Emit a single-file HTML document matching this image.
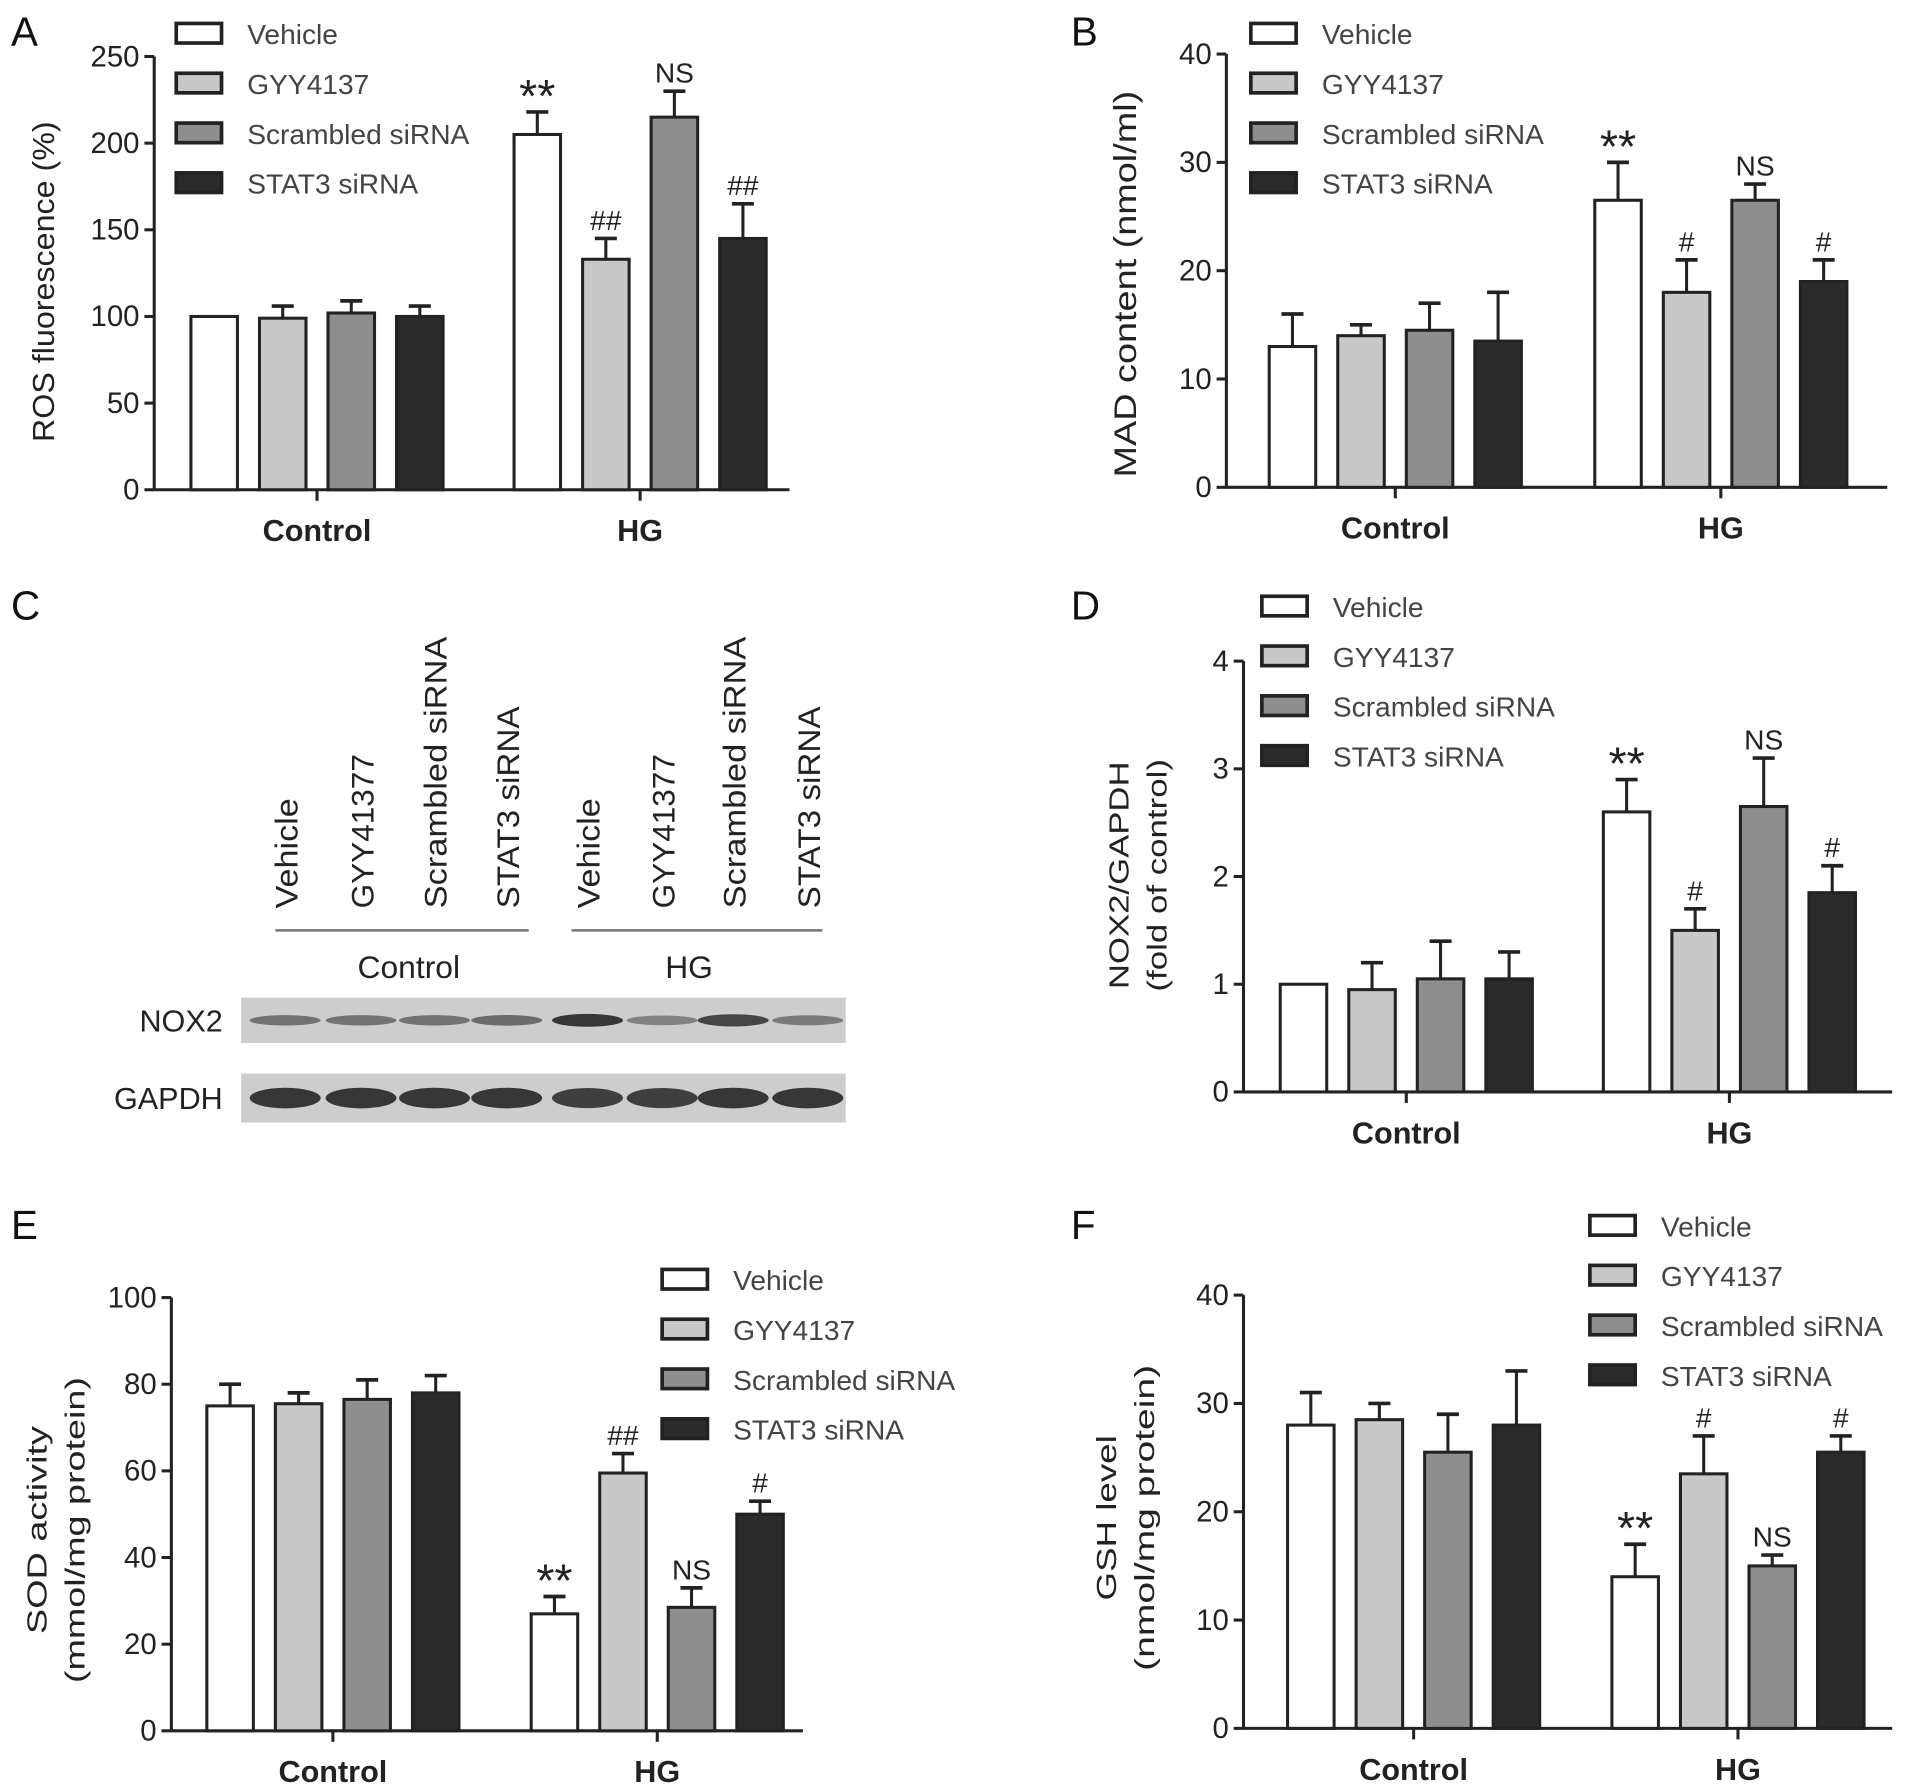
<!DOCTYPE html>
<html><head><meta charset="utf-8"><style>
html,body{margin:0;padding:0;background:#fff;}
svg{display:block;font-family:"Liberation Sans",Arial,sans-serif;}
</style></head><body>
<svg id="fig" width="1913" height="1791" viewBox="0 0 1563 1463" xmlns="http://www.w3.org/2000/svg">
<g id="blot"></g>
</svg>
<script>
// ---- data ----
const groups = ["Control", "HG"];
const seriesNames = ["Vehicle", "GYY4137", "Scrambled siRNA", "STAT3 siRNA"];
// Panel A
const rosCtrl = [100, 99, 102, 100];
const rosCtrlErr = [0, 7, 7, 6];
const rosHG = [205, 133, 215, 145];
const rosHGErr = [13, 12, 15, 20];
const rosTicks = [0, 50, 100, 150, 200, 250];
const rosMarks = ["**", "##", "NS", "##"];
// Panel B
const madCtrl = [13, 14, 14.5, 13.5];
const madCtrlErr = [3, 1, 2.5, 4.5];
const madHG = [26.5, 18, 26.5, 19];
const madHGErr = [3.5, 3, 1.5, 2];
const madTicks = [0, 10, 20, 30, 40];
const madMarks = ["**", "#", "NS", "#"];
// Panel D
const noxCtrl = [1, 0.95, 1.05, 1.05];
const noxCtrlErr = [0, 0.25, 0.35, 0.25];
const noxHG = [2.6, 1.5, 2.65, 1.85];
const noxHGErr = [0.3, 0.2, 0.45, 0.25];
const noxTicks = [0, 1, 2, 3, 4];
const noxMarks = ["**", "#", "NS", "#"];
// Panel E
const sodCtrl = [75, 75.5, 76.5, 78];
const sodCtrlErr = [5, 2.5, 4.5, 4];
const sodHG = [27, 59.5, 28.5, 50];
const sodHGErr = [4, 4.5, 4.5, 3];
const sodTicks = [0, 20, 40, 60, 80, 100];
const sodMarks = ["**", "##", "NS", "#"];
// Panel F
const gshCtrl = [28, 28.5, 25.5, 28];
const gshCtrlErr = [3, 1.5, 3.5, 5];
const gshHG = [14, 23.5, 15, 25.5];
const gshHGErr = [3, 3.5, 1, 1.5];
const gshTicks = [0, 10, 20, 30, 40];
const gshMarks = ["**", "#", "NS", "#"];
// Panel C blot intensities (0-1)
const laneLabels = ["Vehicle", "GYY41377", "Scrambled siRNA", "STAT3 siRNA", "Vehicle", "GYY41377", "Scrambled siRNA", "STAT3 siRNA"];
const nox2Intensity = [0.5, 0.5, 0.5, 0.55, 0.9, 0.4, 0.8, 0.45];
const gapdhIntensity = [0.9, 0.9, 0.9, 0.9, 0.85, 0.85, 0.9, 0.9];

const fills = ["#ffffff", "#c8c8c8", "#8e8e8e", "#2b2b2b"];
const NS = "http://www.w3.org/2000/svg";
const svg = document.getElementById('fig');
function mk(tag, attrs, parent, text) {
  const e = document.createElementNS(NS, tag);
  for (const k in attrs) e.setAttribute(k, attrs[k]);
  if (text !== undefined) e.textContent = text;
  (parent || svg).appendChild(e);
  return e;
}

function panel(cfg) {
  const g = mk('g', {});
  
  
  const maxV = cfg.ticks[cfg.ticks.length - 1];
  const y = v => cfg.y0 - (v / maxV) * (cfg.y0 - cfg.yTop);
  const lbl = mk('text', {x: cfg.letterX, y: cfg.letterY, 'font-size': 33, fill: '#111'}, g, cfg.letter);
  
  
  const ya = mk('line', {x1: cfg.ax, y1: cfg.yTop, x2: cfg.ax, y2: cfg.y0, stroke: '#222', 'stroke-width': 2.5}, g);
  
  
  const xa = mk('line', {x1: cfg.ax, y1: cfg.y0, x2: cfg.axEnd, y2: cfg.y0, stroke: '#222', 'stroke-width': 2.5}, g);
  
  
  cfg.ticks.forEach(t => {
    mk('line', {x1: cfg.ax - 8, y1: y(t), x2: cfg.ax, y2: y(t), stroke: '#222', 'stroke-width': 2.5}, g);
    const tl = mk('text', {x: cfg.ax - 12, y: y(t) + 8, 'font-size': 24, 'text-anchor': 'end', fill: '#222'}, g, String(t));
    
    
  });
  const tx = cfg.titleX, ty = cfg.titleY;
  cfg.title.forEach((line, i) => {
    const t = mk('text', {x: 0, y: 0, 'font-size': cfg.titleSize, 'text-anchor': 'middle', fill: '#222',
      textLength: cfg.titleLen[i], lengthAdjust: 'spacingAndGlyphs',
      transform: `translate(${tx + i * cfg.titleGap},${ty}) rotate(-90)`}, g, line);
    
    
  });
  const offs = [-84, -28, 28, 84];
  [ [cfg.ctrl, cfg.ctrlErr, cfg.c0, null], [cfg.hg, cfg.hgErr, cfg.c1, cfg.marks] ].forEach((grp, gi) => {
    const [vals, errs, cx, marks] = grp;
    mk('line', {x1: cx, y1: cfg.y0, x2: cx, y2: cfg.y0 + 9, stroke: '#222', 'stroke-width': 2.5}, g);
    const gl = mk('text', {x: cx, y: cfg.y0 + 42, 'font-size': 25, 'font-weight': 'bold', 'text-anchor': 'middle', fill: '#222'}, g, groups[gi]);
    
    
    vals.forEach((v, i) => {
      const bx = cx + offs[i];
      const top = y(v);
      const et = y(v + errs[i]);
      if (errs[i] > 0) {
        mk('line', {x1: bx, y1: top, x2: bx, y2: et, stroke: '#222', 'stroke-width': 2.5}, g);
        mk('line', {x1: bx - 9, y1: et, x2: bx + 9, y2: et, stroke: '#222', 'stroke-width': 3}, g);
      }
      const r = mk('rect', {x: bx - 19, y: top, width: 38, height: cfg.y0 - top, fill: fills[i], stroke: '#222', 'stroke-width': 2.5}, g);
      
      
      if (marks) {
        const big = marks[i] === '**';
        const m = mk('text', {x: bx, y: et - (big ? 0 : 7), 'font-size': big ? 38 : 23, 'text-anchor': 'middle', fill: '#222'}, g, marks[i]);
        
        
      }
    });
  });
  seriesNames.forEach((s, i) => {
    const ly = cfg.legY + i * 40.7;
    const lr = mk('rect', {x: cfg.legX, y: ly, width: 37, height: 16, fill: fills[i], stroke: '#222', 'stroke-width': 3}, g);
    
    
    const lt = mk('text', {x: cfg.legX + 58, y: ly + 17, 'font-size': 23, fill: '#444'}, g, s);
    
    
  });
}

panel({name: 'panel-a-ros-chart', letter: 'A', letterX: 9, letterY: 37, ax: 126, axEnd: 645, y0: 400, yTop: 46,
  ticks: rosTicks, ctrl: rosCtrl, ctrlErr: rosCtrlErr, hg: rosHG, hgErr: rosHGErr, marks: rosMarks,
  c0: 259, c1: 523, title: ['ROS fluorescence (%)'], titleLen: [262], titleX: 44, titleY: 230, titleGap: 0, titleSize: 25, legX: 144, legY: 19});
panel({name: 'panel-b-mad-chart', letter: 'B', letterX: 875, letterY: 37, ax: 1002, axEnd: 1542, y0: 398, yTop: 44,
  ticks: madTicks, ctrl: madCtrl, ctrlErr: madCtrlErr, hg: madHG, hgErr: madHGErr, marks: madMarks,
  c0: 1140, c1: 1406, title: ['MAD content (nmol/ml)'], titleLen: [316], titleX: 928, titleY: 232, titleGap: 0, titleSize: 26, legX: 1022, legY: 19});
panel({name: 'panel-d-nox2-chart', letter: 'D', letterX: 875, letterY: 506, ax: 1016, axEnd: 1546, y0: 892, yTop: 540,
  ticks: noxTicks, ctrl: noxCtrl, ctrlErr: noxCtrlErr, hg: noxHG, hgErr: noxHGErr, marks: noxMarks,
  c0: 1149, c1: 1413, title: ['NOX2/GAPDH', '(fold of control)'], titleLen: [186, 190], titleX: 922, titleY: 715, titleGap: 31, titleSize: 23, legX: 1031, legY: 487});
panel({name: 'panel-e-sod-chart', letter: 'E', letterX: 9, letterY: 1012, ax: 140, axEnd: 656, y0: 1414, yTop: 1060,
  ticks: sodTicks, ctrl: sodCtrl, ctrlErr: sodCtrlErr, hg: sodHG, hgErr: sodHGErr, marks: sodMarks,
  c0: 272, c1: 537, title: ['SOD activity', '(mmol/mg protein)'], titleLen: [170, 250], titleX: 38, titleY: 1250, titleGap: 31, titleSize: 23, legX: 541, legY: 1037});
panel({name: 'panel-f-gsh-chart', letter: 'F', letterX: 875, letterY: 1012, ax: 1016, axEnd: 1546, y0: 1412, yTop: 1058,
  ticks: gshTicks, ctrl: gshCtrl, ctrlErr: gshCtrlErr, hg: gshHG, hgErr: gshHGErr, marks: gshMarks,
  c0: 1155, c1: 1420, title: ['GSH level', '(nmol/mg protein)'], titleLen: [135, 250], titleX: 912, titleY: 1240, titleGap: 31, titleSize: 23, legX: 1299, legY: 993});

// ---- Panel C blot ----
const blot = document.getElementById('blot');
const cl = mk('text', {x: 9, y: 506, 'font-size': 33, fill: '#111'}, blot, 'C');


const laneX = [233, 295, 355, 414, 480, 541, 599, 660];
const laneLen = [90, 126, 222, 165, 90, 126, 222, 165];
laneLabels.forEach((s, i) => {
  const t = mk('text', {x: 0, y: 0, 'font-size': 26, fill: '#222', textLength: laneLen[i], lengthAdjust: 'spacingAndGlyphs',
    transform: `translate(${laneX[i] + 10},742) rotate(-90)`}, blot, s);
  
  
});
mk('line', {x1: 225, y1: 760, x2: 432, y2: 760, stroke: '#777', 'stroke-width': 2}, blot);
mk('line', {x1: 467, y1: 760, x2: 672, y2: 760, stroke: '#777', 'stroke-width': 2}, blot);
[['Control', 334], ['HG', 563]].forEach(([s, x]) => {
  const t = mk('text', {x: x, y: 799, 'font-size': 26, 'text-anchor': 'middle', fill: '#222'}, blot, s);
  
  
});
[['NOX2', 815, 852, nox2Intensity, 5], ['GAPDH', 877, 917, gapdhIntensity, 8]].forEach(([name, y1, y2, ints, bh]) => {
  const bg = mk('rect', {x: 197, y: y1, width: 494, height: y2 - y1, fill: '#cdcdcd'}, blot);
  
  
  const cy = (y1 + y2) / 2;
  ints.forEach((v, i) => {
    const c = Math.round(190 - v * 150);
    const b = mk('ellipse', {cx: laneX[i], cy: cy, rx: 29, ry: bh * (0.6 + v * 0.5), fill: `rgb(${c},${c},${c})`}, blot);
    
    
  });
  const t = mk('text', {x: 182, y: cy + 9, 'font-size': 25, 'text-anchor': 'end', fill: '#222'}, blot, name);
  
  
});
</script>
</body></html>
